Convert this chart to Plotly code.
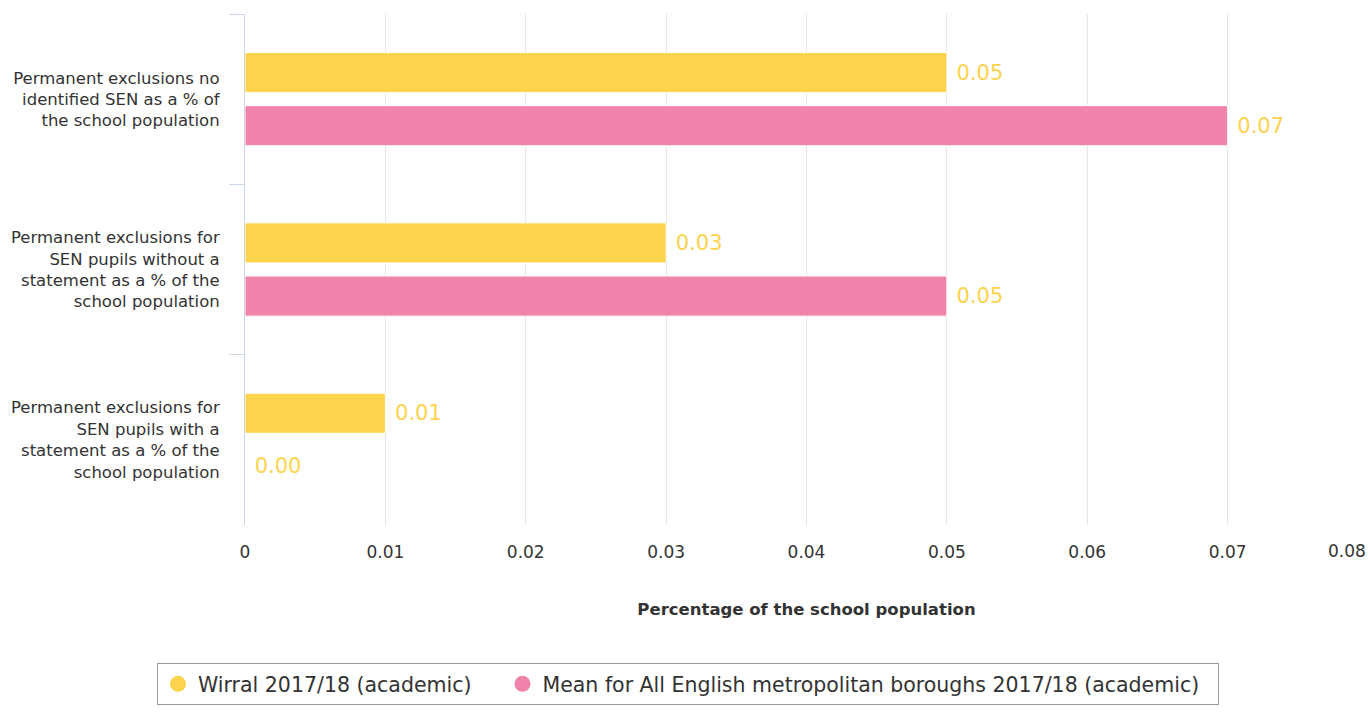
import plotly.graph_objects as go

categories = [
    "Permanent exclusions no<br>identified SEN as a % of<br>the school population",
    "Permanent exclusions for<br>SEN pupils without a<br>statement as a % of the<br>school population",
    "Permanent exclusions for<br>SEN pupils with a<br>statement as a % of the<br>school population",
]
wirral = [0.05, 0.03, 0.01]
mean_met = [0.07, 0.05, 0.00]
series_names = ["Wirral 2017/18 (academic)",
                "Mean for All English metropolitan boroughs 2017/18 (academic)"]
colors = ["#FCD34D", "#F083AB"]
x_ticks = [0, 0.01, 0.02, 0.03, 0.04, 0.05, 0.06, 0.07, 0.08]
x_ticktext = ["0", "0.01", "0.02", "0.03", "0.04", "0.05", "0.06", "0.07", ""]

FONT = "DejaVu Sans"
NBSP = "\u00a0"
legend_pad = [4, 2]

fig = go.Figure()
for name, vals, col in zip(series_names, [wirral, mean_met], colors):
    fig.add_trace(go.Bar(
        y=categories, x=vals, orientation="h", name=name,
        marker=dict(color=col, line=dict(color="white", width=1)),
        text=[f" {v:.2f}" for v in vals], textposition="outside",
        textfont=dict(family=FONT, size=21, color="#FCD34D"),
        cliponaxis=False, showlegend=False, hoverinfo="x+name",
    ))
for name, col, pad in zip(series_names, colors, legend_pad):
    fig.add_trace(go.Scatter(
        x=[None], y=[None], mode="markers", name=name + NBSP * pad,
        marker=dict(color=col, size=18, symbol="circle"),
        showlegend=True,
    ))

fig.update_layout(
    width=1368, height=715,
    margin=dict(l=245, r=0, t=14, b=190, autoexpand=False),
    paper_bgcolor="white", plot_bgcolor="white",
    barmode="group", bargap=0.376, bargroupgap=0.245,
    font=dict(family=FONT, color="#333333"),
    legend=dict(
        orientation="h", x=0.3945, xanchor="center", xref="paper",
        y=-0.27, yanchor="top",
        bordercolor="#999999", borderwidth=1, bgcolor="white",
        font=dict(family=FONT, size=20.5, color="#333333"),
        itemsizing="trace",
    ),
    xaxis=dict(
        range=[0, 0.08], tickvals=x_ticks, ticktext=x_ticktext,
        showgrid=True, gridcolor="#e6e6e6", gridwidth=1,
        zeroline=False, showline=False,
        tickfont=dict(family=FONT, size=17, color="#333333"),
        ticklabelstandoff=15, tickangle=0,
        title=dict(text="<b>Percentage of the school population</b>",
                   font=dict(family=FONT, size=16.5, color="#333333"),
                   standoff=42),
    ),
    yaxis=dict(
        autorange="reversed", type="category",
        showline=True, linecolor="#ccd6eb", linewidth=1,
        ticks="outside", tickson="boundaries", ticklen=15, tickcolor="#ccd6eb",
        showgrid=False, zeroline=False,
        tickfont=dict(family=FONT, size=16.5, color="#333333"),
        ticklabelstandoff=21,
    ),
)
fig.add_annotation(
    x=0.08, xref="x", y=0, yref="paper", yshift=-26,
    text="0.08", showarrow=False, xanchor="right", yanchor="middle",
    font=dict(family=FONT, size=17, color="#333333"),
)
fig.write_html(
    "out.html",
    config={"displayModeBar": False},
    post_script="document.body.style.margin='0';document.body.style.overflow='hidden';",
)
